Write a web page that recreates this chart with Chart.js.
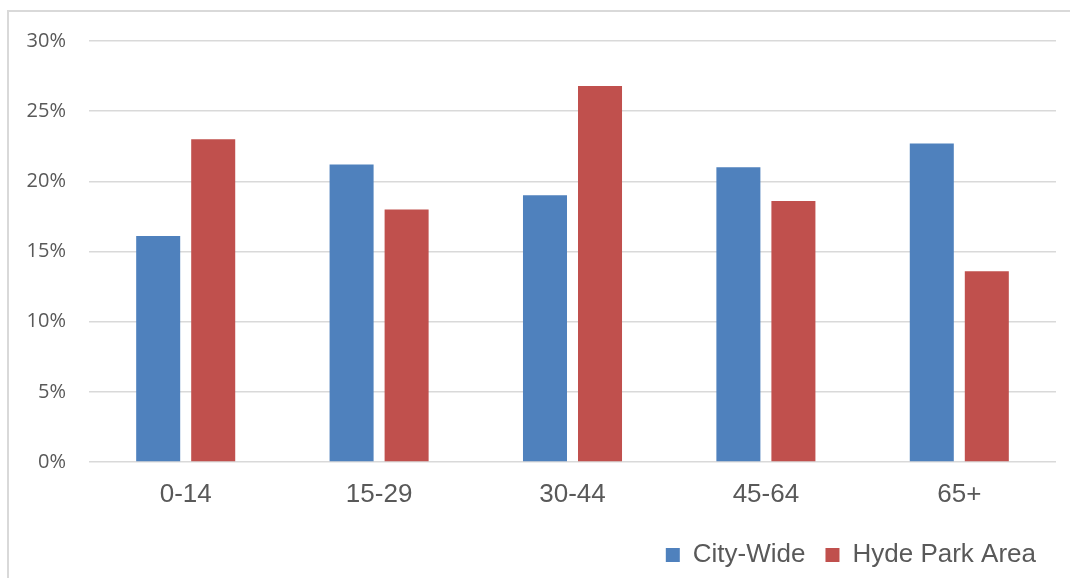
<!DOCTYPE html>
<html>
<head>
<meta charset="utf-8">
<script src="https://cdn.jsdelivr.net/npm/chart.js@4/dist/chart.umd.min.js"></script>
<style>
  body { margin: 0; background: #fff; overflow: hidden; }
  #frame { position: absolute; left: 7px; top: 10px; width: 1100px; height: 620px; border: 2px solid #d9d9d9; }
  #wrap { position: absolute; left: 0; top: 0; width: 1070px; height: 578px; }
</style>
</head>
<body>
<div id="frame"></div>
<div id="wrap"><canvas id="chart" width="1070" height="578"></canvas></div>
<script>
var categories = ['0-14', '15-29', '30-44', '45-64', '65+'];
var cityWide = [16.1, 21.2, 19.0, 21.0, 22.7];
var hydePark = [23.0, 18.0, 26.8, 18.6, 13.6];
var yTicks = [0, 5, 10, 15, 20, 25, 30];

var textCol = '#595959';

new Chart(document.getElementById('chart'), {
    type: 'bar',
    data: {
        labels: categories,
        datasets: [{
            label: 'City-Wide',
            data: cityWide,
            backgroundColor: '#4f81bd'
        }, {
            label: 'Hyde Park Area',
            data: hydePark,
            backgroundColor: '#c0504d'
        }]
    },
    options: {
        responsive: false,
        animation: false,
        layout: { padding: { left: 0, right: 14, top: 41, bottom: 0 } },
        datasets: { bar: { barPercentage: 0.8, categoryPercentage: 0.569 } },
        plugins: {
            tooltip: { enabled: false },
            legend: {
                position: 'bottom',
                align: 'end',
                labels: {
                    color: textCol,
                    font: { family: 'Liberation Sans', size: 26 },
                    boxWidth: 14,
                    boxHeight: 14,
                    padding: 20
                }
            }
        },
        scales: {
            x: {
                grid: { display: false },
                border: { display: false },
                ticks: { color: textCol, font: { family: 'Liberation Sans', size: 26 }, padding: 9 },
                afterFit: function(s) { s.height = 60; }
            },
            y: {
                min: yTicks[0],
                max: yTicks[yTicks.length - 1],
                afterBuildTicks: function(s) { s.ticks = yTicks.map(function(v) { return { value: v }; }); },
                grid: { color: '#d9d9d9', lineWidth: 1.5, drawTicks: false },
                border: { display: false },
                ticks: {
                    color: textCol,
                    font: { family: 'Open Sans', size: 20 },
                    padding: 23,
                    callback: function(v) { return v + '%'; }
                },
                afterFit: function(s) { s.width = 89; }
            }
        }
    }
});
</script>
</body>
</html>
